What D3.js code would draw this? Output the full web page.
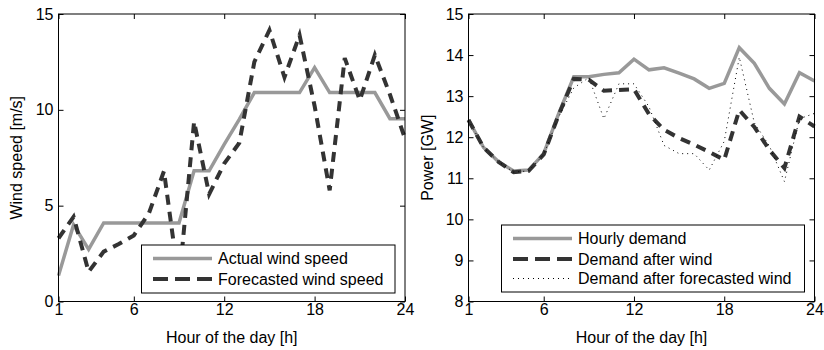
<!DOCTYPE html>
<html>
<head>
<meta charset="utf-8">
<script src="https://cdn.jsdelivr.net/npm/d3@7"></script>
<style>
  html, body { margin: 0; padding: 0; background: #fff; }
  svg { display: block; font-family: "Liberation Sans", Arial, sans-serif; }
  .tick text { font-size: 16px; fill: #000; font-family: "Liberation Sans", Arial, sans-serif; }
  .tick line { stroke: #000; stroke-width: 1; }
</style>
</head>
<body>
<svg id="chart" width="824" height="350"></svg>
<script>
// ---------------- data ----------------
const hours = [1, 2, 3, 4, 5, 6, 7, 8, 9, 10, 11, 12, 13, 14, 15, 16, 17, 18, 19, 20, 21, 22, 23, 24];
const xTicks = [1, 6, 12, 18, 24];

// Left panel: wind speed [m/s]
const actualWind   = [1.35, 4.0, 2.72, 4.1, 4.1, 4.1, 4.1, 4.1, 4.1, 6.82, 6.82, 8.2, 9.5, 10.9, 10.9, 10.9, 10.9, 12.2, 10.9, 10.9, 10.9, 10.9, 9.54, 9.54];
const forecastWind = [3.3, 4.42, 1.55, 2.6, 3.0, 3.45, 4.6, 6.8, 1.0, 9.38, 5.6, 7.2, 8.27, 12.5, 14.16, 11.7, 13.9, 10.2, 5.8, 12.7, 10.5, 12.86, 10.8, 8.5];
const windTicks = [0, 5, 10, 15];

// Right panel: power [GW]
const hourlyDemand     = [12.42, 11.75, 11.4, 11.18, 11.2, 11.6, 12.58, 13.47, 13.47, 13.53, 13.57, 13.9, 13.64, 13.69, 13.56, 13.42, 13.19, 13.31, 14.18, 13.8, 13.19, 12.81, 13.57, 13.37];
const demandAfterWind  = [12.42, 11.75, 11.4, 11.15, 11.18, 11.58, 12.55, 13.42, 13.4, 13.13, 13.15, 13.17, 12.56, 12.18, 11.98, 11.82, 11.64, 11.45, 12.66, 12.25, 11.69, 11.25, 12.5, 12.26];
const demandAfterFcst  = [12.42, 11.75, 11.4, 11.15, 11.18, 11.58, 12.5, 13.2, 13.45, 12.45, 13.3, 13.3, 12.74, 11.8, 11.6, 11.6, 11.2, 11.9, 13.95, 12.35, 11.79, 10.92, 12.45, 12.58];
const powerTicks = [8, 9, 10, 11, 12, 13, 14, 15];

// ---------------- drawing ----------------
const svg = d3.select("#chart");
svg.append("rect").attr("width", 824).attr("height", 350).attr("fill", "#fff");

const styles = {
  solid:  { stroke: "#999999", width: 3.5, dash: null },
  dashed: { stroke: "#333333", width: 4,   dash: "10,7" },
  dotted: { stroke: "#000000", width: 1,   dash: "1,4" }
};

function panel(opts) {
  const { left, right, top, bottom, yDomain, yTicks, series, yLabel, yLabelX, legend } = opts;
  const x = d3.scaleLinear().domain([1, 24]).range([left, right]);
  const y = d3.scaleLinear().domain(yDomain).range([bottom, top]);
  const g = svg.append("g");

  // axes (MATLAB-style inward ticks on all four sides)
  const ax = g.append("g").attr("transform", `translate(0,${bottom})`)
    .call(d3.axisBottom(x).tickValues(xTicks).tickSize(-5).tickPadding(2).tickFormat(d3.format("d")));
  ax.select(".domain").remove();
  const at = g.append("g").attr("transform", `translate(0,${top})`)
    .call(d3.axisTop(x).tickValues(xTicks).tickSize(-5).tickFormat(""));
  at.select(".domain").remove();
  const ay = g.append("g").attr("transform", `translate(${left},0)`)
    .call(d3.axisLeft(y).tickValues(yTicks).tickSize(-5).tickPadding(5).tickFormat(d3.format("d")));
  ay.select(".domain").remove();
  const ar = g.append("g").attr("transform", `translate(${right},0)`)
    .call(d3.axisRight(y).tickValues(yTicks).tickSize(-5).tickFormat(""));
  ar.select(".domain").remove();

  // series
  const line = d3.line().x((d, i) => x(hours[i])).y(d => y(d));
  series.forEach(s => {
    const st = styles[s.style];
    g.append("path").datum(s.values)
      .attr("d", line)
      .attr("fill", "none")
      .attr("stroke", st.stroke)
      .attr("stroke-width", st.width)
      .attr("stroke-dasharray", st.dash)
      .attr("stroke-linejoin", "miter");
  });

  // frame
  g.append("rect").attr("x", left).attr("y", top)
    .attr("width", right - left).attr("height", bottom - top)
    .attr("fill", "none").attr("stroke", "#000").attr("stroke-width", 1);

  // axis labels
  g.append("text").attr("x", (left + right) / 2).attr("y", 343)
    .attr("text-anchor", "middle").attr("font-size", 16).text("Hour of the day [h]");
  g.append("text")
    .attr("transform", `translate(${yLabelX},${(top + bottom) / 2}) rotate(-90)`)
    .attr("text-anchor", "middle").attr("font-size", 16).text(yLabel);

  // legend
  const lg = g.append("g");
  lg.append("rect").attr("x", legend.x).attr("y", legend.y)
    .attr("width", legend.w).attr("height", legend.h)
    .attr("fill", "#fff").attr("stroke", "#000").attr("stroke-width", 1);
  series.forEach((s, i) => {
    const st = styles[s.style];
    const cy = legend.rows[i];
    lg.append("line").attr("x1", legend.lx1).attr("x2", legend.lx2)
      .attr("y1", cy).attr("y2", cy)
      .attr("stroke", st.stroke).attr("stroke-width", st.width)
      .attr("stroke-dasharray", s.style === "dashed" ? "15,7" : st.dash);
    lg.append("text").attr("x", legend.tx).attr("y", cy).attr("dy", "0.35em")
      .attr("font-size", 16).text(s.name);
  });
}

panel({
  left: 58.5, right: 405, top: 14, bottom: 301.5,
  yDomain: [0, 15], yTicks: windTicks,
  yLabel: "Wind speed [m/s]", yLabelX: 22,
  series: [
    { name: "Actual wind speed", values: actualWind, style: "solid" },
    { name: "Forecasted wind speed", values: forecastWind, style: "dashed" }
  ],
  legend: { x: 141.5, y: 245, w: 253.5, h: 48, rows: [258.5, 279], lx1: 153, lx2: 212, tx: 218 }
});

panel({
  left: 468.5, right: 814.5, top: 14, bottom: 301.5,
  yDomain: [8, 15], yTicks: powerTicks,
  yLabel: "Power [GW]", yLabelX: 433,
  series: [
    { name: "Hourly demand", values: hourlyDemand, style: "solid" },
    { name: "Demand after wind", values: demandAfterWind, style: "dashed" },
    { name: "Demand after forecasted wind", values: demandAfterFcst, style: "dotted" }
  ],
  legend: { x: 501.5, y: 225, w: 303, h: 67, rows: [238.5, 259, 278.5], lx1: 513, lx2: 572, tx: 578 }
});
</script>
</body>
</html>
